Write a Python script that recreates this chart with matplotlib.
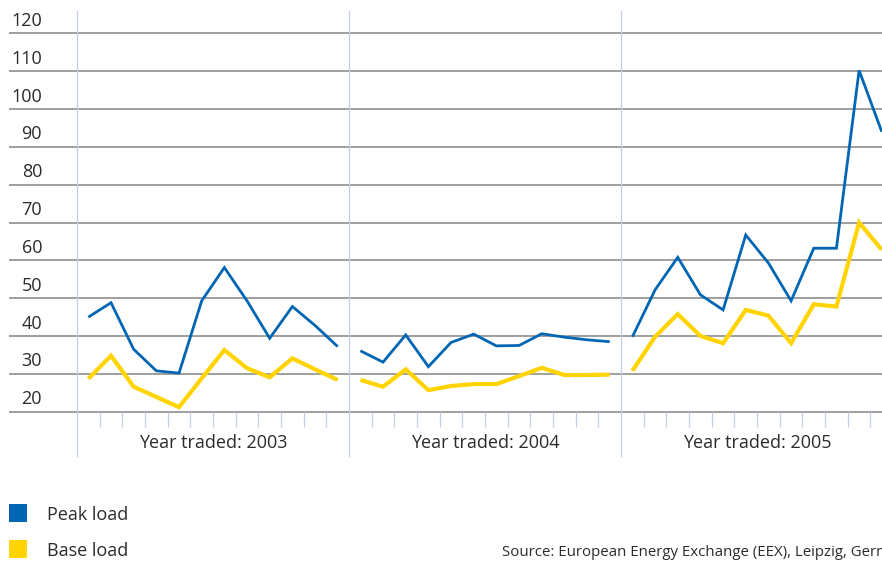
import matplotlib
matplotlib.use("Agg")
import matplotlib.pyplot as plt
from matplotlib.patches import Rectangle

plt.rcParams['font.family'] = ['Open Sans', 'DejaVu Sans']

years = ["2003", "2004", "2005"]
y_ticks = [20, 30, 40, 50, 60, 70, 80, 90, 100, 110, 120]

peak_2003 = [45.0, 48.8, 36.5, 30.8, 30.2, 49.3, 58.1, 49.3, 39.4, 47.8, 42.8, 37.2]
peak_2004 = [36.1, 33.1, 40.3, 31.9, 38.3, 40.5, 37.4, 37.5, 40.6, 39.7, 39.0, 38.5]
peak_2005 = [39.8, 52.2, 60.8, 50.9, 46.9, 66.7, 59.3, 49.3, 63.2, 63.2, 110.2, 94.0]
base_2003 = [28.7, 34.8, 26.6, 23.9, 21.2, 28.8, 36.3, 31.5, 29.1, 34.1, 31.2, 28.4]
base_2004 = [28.4, 26.6, 31.2, 25.7, 26.8, 27.3, 27.3, 29.4, 31.6, 29.7, 29.7, 29.8]
base_2005 = [30.8, 39.8, 45.8, 40.0, 38.1, 46.9, 45.4, 38.1, 48.4, 47.8, 70.0, 62.8]

peak = [peak_2003, peak_2004, peak_2005]
base = [base_2003, base_2004, base_2005]

BLUE = "#0066b3"
YELLOW = "#ffd400"
GRID = "#858585"
SEP = "#c3cfe8"
TXT = "#2b2b2b"

W, H = 882, 562
fig = plt.figure(figsize=(W / 100, H / 100), dpi=100)
ax = fig.add_axes([9 / W, (H - 457) / H, 873 / W, 446 / H])
ax.set_xlim(-3.0, 35.51)
ax.set_ylim(8.03, 125.9)
ax.axis("off")

# horizontal gridlines
for v in y_ticks:
    ax.axhline(v, color=GRID, lw=1.1, zorder=1)
    ax.text(-1.544, v + 3.3, str(v), ha="right", va="center",
            fontsize=13, color=TXT, zorder=3)

# year separators and month ticks
for k in range(len(years) + 1):
    ax.axvline(12 * k, color=SEP, lw=0.9, zorder=2)
for k in range(len(years)):
    for i in range(1, 12):
        ax.plot([12 * k + i, 12 * k + i], [20, 15.95], color=SEP, lw=0.9,
                zorder=2, solid_capstyle="butt")
    ax.text(12 * k + 6, 11.73, "Year traded: " + years[k], ha="center",
            va="center", fontsize=13, color=TXT)

# data lines
for k in range(len(years)):
    xs = [12 * k + i + 0.5 for i in range(12)]
    ax.plot(xs, base[k], color=YELLOW, lw=3.0, zorder=4,
            solid_joinstyle="miter", solid_capstyle="butt")
    ax.plot(xs, peak[k], color=BLUE, lw=2.0, zorder=5,
            solid_joinstyle="miter", solid_capstyle="butt")

# legend
fig.add_artist(Rectangle((9 / W, 1 - 522 / H), 18 / W, 18 / H,
                         transform=fig.transFigure, color=BLUE, lw=0))
fig.add_artist(Rectangle((9 / W, 1 - 558 / H), 18 / W, 18 / H,
                         transform=fig.transFigure, color=YELLOW, lw=0))
fig.text(47 / W, 1 - 515 / H, "Peak load", ha="left", va="center",
         fontsize=13, color=TXT)
fig.text(47 / W, 1 - 551 / H, "Base load", ha="left", va="center",
         fontsize=13, color=TXT)
fig.text(502 / W, 1 - 553 / H,
         "Source: European Energy Exchange (EEX), Leipzig, Germany",
         ha="left", va="center", fontsize=10.8, color=TXT)

fig.savefig("out.png", dpi=100)
